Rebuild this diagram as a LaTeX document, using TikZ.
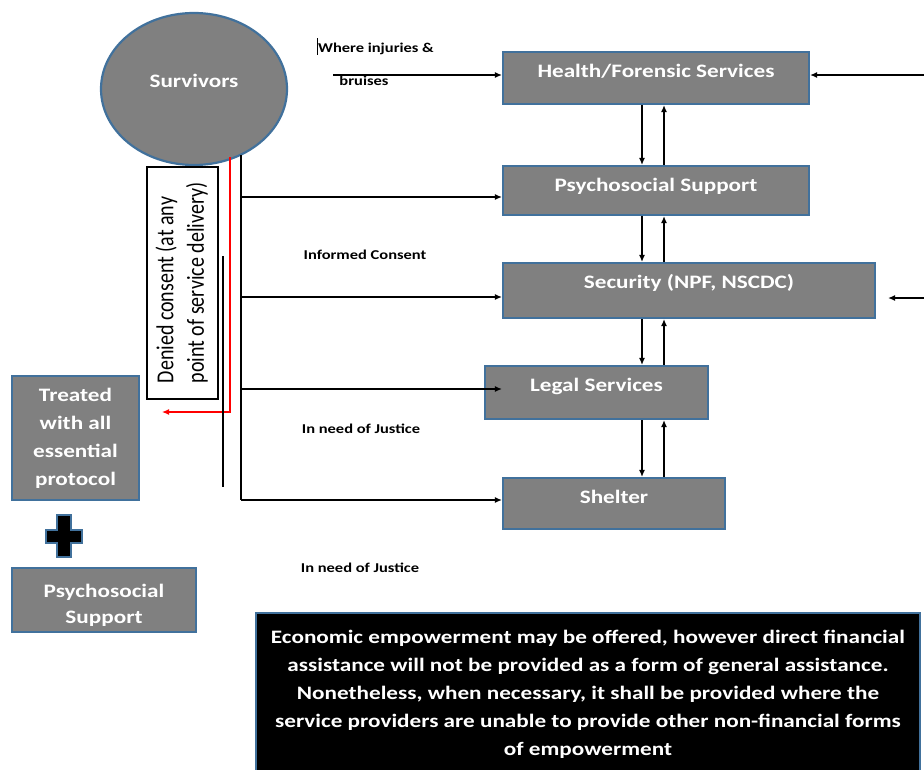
\documentclass[tikz,border=0pt]{standalone}
\usepackage{graphicx}
\usepackage{fontspec}
\setmainfont{Carlito}[FakeStretch=1.22]
\newfontfamily\denyfont{Carlito}
\usetikzlibrary{shapes.geometric,arrows.meta}
\definecolor{boxgray}{RGB}{128,128,128}
\definecolor{boxblue}{RGB}{65,113,156}
\definecolor{denyred}{RGB}{255,0,0}
\tikzset{
  svcbox/.style={draw=boxblue, line width=2.2pt, fill=boxgray, text=white,
    font=\bfseries\fontsize{19}{22}\selectfont, inner sep=0pt},
  tagtxt/.style={font=\bfseries\fontsize{13.5}{16}\selectfont, inner sep=0pt, anchor=base},
  arr/.style={-{Latex[length=7pt,width=6pt]}, line width=1.2pt},
  plainln/.style={line width=1.2pt}
}

\begin{document}
\begin{tikzpicture}[x=1pt,y=-1pt]
				\useasboundingbox (0,0) rectangle (924,769);
				
				% Survivors
				\node[svcbox, ellipse, minimum width=186pt, minimum height=152pt,
				text height=13pt, text depth=17pt] (surv) at (194,89) {Survivors};
				
				% Services column
				\node[svcbox, minimum width=306pt, minimum height=52pt, text height=13pt, text depth=15pt] (health) at (656,78) {Health/Forensic Services};
				\node[svcbox, minimum width=306pt, minimum height=49pt, text height=13pt, text depth=12pt] (psycho) at (656,190.5) {Psychosocial Support};
				\node[svcbox, minimum width=372pt, minimum height=55pt, text height=13pt, text depth=18pt] (security) at (689,290.5) {Security (NPF, NSCDC)};
				\node[svcbox, minimum width=223pt, minimum height=53pt, text height=13pt, text depth=16pt] (legal) at (596.5,392.5) {Legal Services};
				\node[svcbox, minimum width=222pt, minimum height=51pt, text height=13pt, text depth=14pt] (shelter) at (614,503.5) {Shelter};
				
				% Left column
				\node[svcbox, minimum width=127pt, minimum height=124pt, align=center,
				font=\bfseries\fontsize{19}{28}\selectfont] (treated) at (75.5,438) {Treated\\with all\\essential\\protocol};
				\node[svcbox, minimum width=184pt, minimum height=64pt, align=center,
				font=\bfseries\fontsize{19}{26}\selectfont, text height=50pt] (psyleft) at (104,600) {Psychosocial\\Support};
				\draw[fill=black, draw=boxblue, line width=1.5pt] (57,515) -- (71,515) -- (71,530) -- (82,530) -- (82,543) -- (71,543)
				-- (71,557) -- (57,557) -- (57,543) -- (46,543) -- (46,530) -- (57,530) -- cycle; % plus
				
				% Denied consent
				\node[draw, line width=1.2pt, rotate=90, minimum width=232pt, minimum height=71pt, inner sep=0pt] (denied) at (182.5,283)
				{\denyfont\scalebox{1}[1.22]{\fontsize{20}{25}\selectfont\begin{tabular}{@{}l@{}}Denied consent (at any\\point of service delivery)\end{tabular}}};
				
				% Note
				\node[draw=boxblue, line width=2.2pt, fill=black, text=white, minimum width=664pt, minimum height=163pt,
				align=center, inner sep=0pt, font=\bfseries\fontsize{19}{28}\selectfont] (econ) at (588,694.5)
				{Economic empowerment may be offered, however direct financial\\
					assistance will not be provided as a form of general assistance.\\
					Nonetheless, when necessary, it shall be provided where the\\
					service providers are unable to provide other non-financial forms\\
					of empowerment};
				
				% Labels
				\node[tagtxt] (lblinj) at (376,52) {Where injuries \&};
				\node[tagtxt] (lblbru) at (364,85) {bruises};
				\node[tagtxt] (lblcons) at (365,259) {Informed Consent};
				\node[tagtxt] (lbljus) at (361,433) {In need of Justice};
				\node[tagtxt] (lbljusb) at (360,572) {In need of Justice};
				\draw[line width=1pt] (317,38) -- (317,55); % cursor mark
				
				% Connector ends
				\coordinate (trunktop) at (241,155);
				\coordinate (psyin) at ([yshift=-6.5pt]psycho.west);
				\coordinate (secin) at ([yshift=-6.5pt]security.west);
				\coordinate (legin) at ([xshift=18pt,yshift=3.5pt]legal.west);
				\coordinate (shelin) at ([yshift=3.5pt]shelter.west);
				\coordinate (injfrom) at (333,75);
				\coordinate (healthin) at ([yshift=3pt]health.west);
				\coordinate (rtop) at (924,75);
				\coordinate (rmid) at (924,298);
				\coordinate (secout) at ([xshift=12pt,yshift=-7.5pt]security.east);
				\coordinate (redtop) at (230,157);
				\coordinate (redend) at (162,412);
				\coordinate (sidetop) at (223,256);
				\coordinate (sidebot) at (223,487);
				\coordinate (dn) at (642,0);
				\coordinate (up) at (664,0);
				
				% Trunk from survivors
				\draw[plainln] (trunktop) -- (trunktop |- shelin);
				\foreach \b in {psyin, secin, legin, shelin}
				\draw[arr] (trunktop |- \b) -- (\b);
				\draw[arr] (injfrom) -- (healthin);
				\draw[arr] (rtop) -- (rtop -| health.east);
				\draw[arr] (rmid) -- (secout);
				\draw[arr, denyred] (redtop) |- (redend);
				\draw[plainln] (sidetop) -- (sidebot);
				
				% Between services
				\foreach \a/\b in {health/psycho, psycho/security, security/legal, legal/shelter} {
					\draw[arr] (dn |- \a.south) -- (dn |- \b.north);
					\draw[arr] (up |- \b.north) -- (up |- \a.south);
				}
			\end{tikzpicture}
\end{document}
